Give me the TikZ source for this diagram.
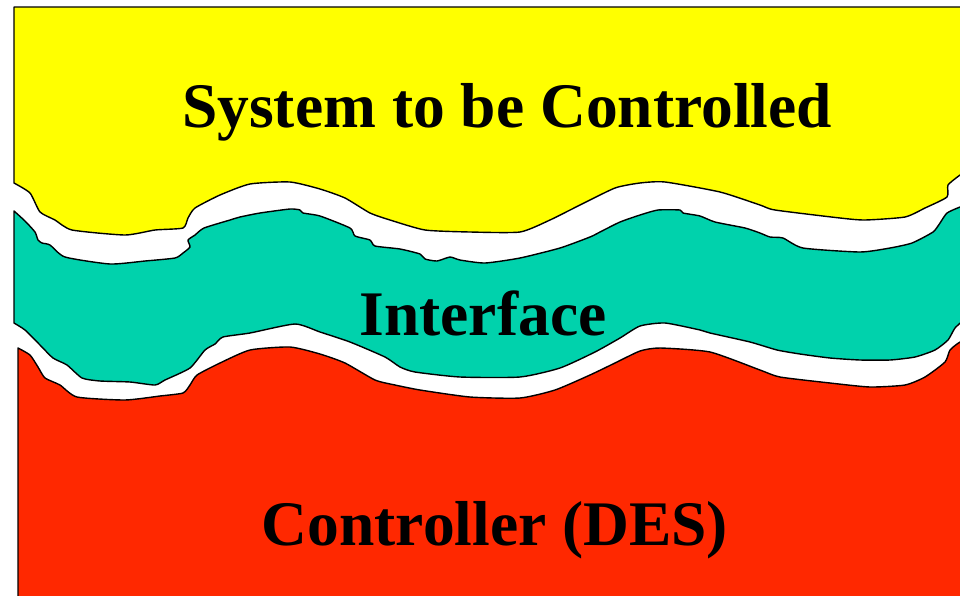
\documentclass[tikz,border=0pt]{standalone}
\usepackage{fontspec}
\setmainfont{Liberation Serif}
\definecolor{sysyellow}{RGB}{255,255,0}
\definecolor{ifteal}{RGB}{0,210,172}
\definecolor{ctlred}{RGB}{255,40,0}
\begin{document}
\begin{tikzpicture}[x=1pt,y=-1pt,
  layer/.style={draw=black,line width=1.4pt,line join=round},
  label/.style={anchor=base,inner sep=0pt,font=\fontsize{63.5}{70}\selectfont\bfseries}]
\useasboundingbox (0,0) rectangle (960,595);
\clip (0,0) rectangle (960,595);

% plant layer
\draw[layer,fill=sysyellow] (14,7) -- (970,7) -- (970,172) --
  plot[smooth,tension=0.35] coordinates {(960,175) (948,185) (947,197) (925,208) (905,217) (865,220) (840,218) (775,210) (760,205) (720,192) (665,182) (640,183) (615,188) (580,205) (550,220) (520,232) (470,232) (425,230) (390,220) (370,213) (345,198) (320,189) (290,182) (250,184) (220,195) (195,208) (188,218) (183,228) (155,230) (125,235) (72,230) (55,220) (40,212) (30,193) (14,183)} -- cycle;

% interface layer
\draw[layer,fill=ifteal]
  plot[smooth,tension=0.35] coordinates {(14,211) (25,221) (35,232) (38,240) (42,243) (50,245) (65,257) (110,264) (145,261) (175,258) (183,253) (190,247) (188,240) (195,235) (204,228) (230,220) (240,217) (260,213) (290,209) (300,210) (303,213) (320,216) (350,228) (355,236) (370,240) (375,246) (400,249) (420,254) (425,259) (437,261) (450,257) (460,260) (485,263) (520,258) (560,248) (590,237) (600,232) (620,222) (640,215) (658,210) (680,210) (683,213) (700,216) (715,222) (745,228) (760,233) (770,237) (783,238) (803,248) (860,252) (890,248) (912,243) (933,232) (940,223) (947,213) (960,207) (970,204)}
  -- (970,316) --
  plot[smooth,tension=0.35] coordinates {(966,318) (955,328) (948,340) (935,350) (915,357) (890,360) (860,360) (830,358) (800,354) (777,350) (750,342) (710,333) (700,330) (665,323) (640,326) (620,338) (595,352) (560,368) (520,377) (460,377) (415,372) (400,367) (385,357) (350,342) (320,332) (295,324) (250,333) (223,337) (215,344) (205,350) (190,368) (165,380) (155,385) (130,382) (100,381) (82,378) (67,365) (53,358) (40,345) (25,330) (14,323)} -- cycle;

% controller layer
\draw[layer,fill=ctlred] (18,605) --
  plot[smooth,tension=0.35] coordinates {(18,348) (30,355) (38,367) (45,378) (60,385) (77,397) (125,400) (160,396) (183,393) (190,385) (197,375) (220,363) (250,350) (290,347) (320,354) (345,363) (375,380) (395,385) (420,390) (470,397) (520,398) (555,390) (590,375) (615,363) (640,351) (660,348) (710,352) (760,370) (780,377) (830,383) (870,387) (905,385) (925,377) (945,362) (950,350) (960,342) (970,339)}
  -- (970,605) -- cycle;

\node[label] (plant) at (507,127) {System to be Controlled};
\node[label] (iface) at (483,335) {Interface};
\node[label] (ctrl) at (495,545) {Controller (DES)};
\end{tikzpicture}
\end{document}
